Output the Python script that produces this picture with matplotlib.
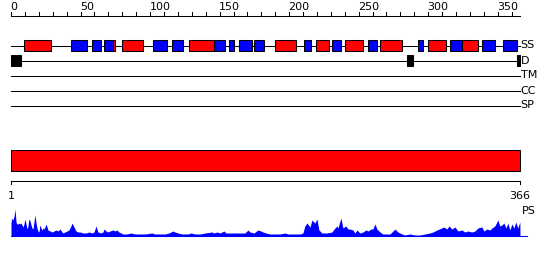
import matplotlib
matplotlib.use("Agg")
import matplotlib.pyplot as plt
from matplotlib.patches import Rectangle

seq_len = 366

# secondary structure elements (residue ranges), H = helix (red), E = strand (blue)
ss_start = [9, 43, 58, 67, 73, 80, 102, 116, 128, 146, 157, 164, 175, 190, 211, 219,
            231, 240, 257, 265, 293, 300, 316, 324, 339, 354]
ss_end = [29, 55, 65, 73, 75, 95, 112, 124, 146, 154, 160, 173, 182, 205, 216, 229,
          237, 253, 263, 281, 296, 313, 324, 336, 348, 364]
ss_type = ['H', 'E', 'E', 'E', 'H', 'H', 'E', 'E', 'H', 'E', 'E', 'E', 'E', 'H', 'E', 'H',
           'E', 'H', 'E', 'H', 'E', 'H', 'E', 'H', 'E', 'E']

# disorder segments
dis_start = [0, 285, 364]
dis_end = [7, 289, 366]

track_names = ['SS', 'D', 'TM', 'CC', 'SP']

# profile score along the sequence
ps_pos = [0, 0.7, 1.4, 2.2, 2.9, 3.6, 4.3, 5.0, 5.8, 6.5, 7.2, 7.9, 8.6, 9.3, 10.1, 10.8,
          11.5, 12.2, 12.9, 13.7, 14.4, 15.1, 15.8, 16.5, 17.3, 18.0, 18.7, 19.4, 20.1,
          20.8, 21.6, 22.3, 23.0, 23.7, 24.4, 25.2, 25.9, 26.6, 28.0, 29.5, 30.9, 32.4,
          33.8, 35.2, 36.7, 37.4, 38.8, 40.3, 41.7, 43.1, 43.9, 44.6, 45.3, 46.7, 48.2,
          49.6, 51.8, 53.9, 56.1, 58.2, 59.7, 61.1, 61.8, 62.5, 64.7, 66.1, 66.9, 68.3,
          69.7, 71.2, 73.3, 74.8, 76.2, 77.6, 79.1, 80.5, 83.4, 86.3, 89.1,
          92.7, 96.3, 101.4, 103.5, 107.1, 110.7, 113.6, 116.5, 117.9, 120.1, 122.9,
          127.2, 129.4, 132.3, 135.9, 139.5, 144.5, 145.9, 148.1, 150.3, 153.1, 154.6,
          157.4, 161.0, 164.6, 168.2, 170.4, 171.8, 174.7, 177.6, 179.7, 181.2, 183.3,
          186.2, 190.5, 193.4, 197.0, 199.1, 202.0, 207.8, 209.9, 211.3, 212.8, 215.0,
          216.4, 218.5, 220.0, 221.4, 223.6, 227.2, 230.8, 232.9, 234.4, 235.1, 237.2,
          238.7, 240.8, 242.3, 243.7, 245.9, 247.3, 248.7, 250.9, 253.1, 255.2, 256.7,
          258.8, 260.2, 261.7, 263.1, 265.3, 267.4, 269.6, 272.5, 276.1, 278.2, 281.1,
          283.3, 286.8, 290.4, 294.0, 297.6, 301.2, 303.4, 306.3, 311.3, 313.4, 314.9,
          317.0, 319.2, 321.4, 324.2, 326.4, 328.5, 331.4, 333.6, 335.7, 338.6, 340.0,
          342.2, 344.4, 345.8, 347.9, 350.1, 351.5, 353.0, 354.4, 355.9, 357.3, 358.7,
          360.2, 361.6, 363.0, 364.4, 365.9, 366]
ps_val = [14, 18, 16, 20, 27, 14, 12, 12, 13, 12, 13, 11, 9, 12, 17, 12,
          7, 10, 17, 15, 11, 8, 7, 14, 21, 13, 8, 5, 4,
          11, 8, 6, 8, 7, 9, 12, 9, 6, 5, 4, 5, 6,
          5, 7, 4, 3, 4, 5, 6, 10, 13, 11, 9, 5, 4,
          4, 3, 3, 4, 3, 4, 10, 7, 4, 3, 4, 7, 5,
          4, 5, 6, 5, 6, 4, 3, 2, 2, 3, 2,
          2, 2, 3, 2, 2, 2, 3, 5, 4, 3, 2,
          2, 3, 2, 2, 3, 4, 3, 4, 3, 5, 3,
          3, 3, 3, 3, 6, 4, 3, 6, 5, 4, 3,
          2, 2, 2, 3, 2, 2, 2, 3, 10, 13, 9,
          16, 13, 17, 6, 3, 3, 4, 8, 10, 8, 18,
          8, 10, 7, 7, 6, 3, 6, 3, 4, 6, 5,
          7, 7, 12, 7, 4, 2, 2, 2, 7, 4, 2,
          1, 2, 1, 1, 2, 3, 4, 6, 9, 7, 10,
          7, 9, 5, 6, 4, 5, 4, 5, 8, 9, 5,
          7, 6, 8, 10, 16, 10, 11, 13, 8, 13, 6,
          12, 8, 14, 8, 14, 0]

px = 509 / seq_len  # pixels per residue

fig = plt.figure(figsize=(5.5, 2.6), dpi=100)
ax = fig.add_axes([0, 0, 1, 1])
ax.set_xlim(-11 / px, (550 - 11) / px)
ax.set_ylim(260, 0)
ax.axis('off')

lw = 0.75
fs = 8

# ruler on top
ax.plot([0, seq_len], [15.5, 15.5], color='black', lw=lw)
for t in range(0, 361, 10):
    ax.plot([t, t], [12, 15.5], color='black', lw=lw)
    if t % 50 == 0:
        ax.text(t - 0.5, 6.5, str(t), ha='left', va='center', fontsize=fs)

# feature tracks
track_y = [45.5, 60.5, 75.5, 90.5, 105.5]
for name, y in zip(track_names, track_y):
    ax.plot([0, seq_len], [y, y], color='black', lw=lw, zorder=1)
    ax.text(seq_len + 0.5, y, name, ha='left', va='center', fontsize=fs)

for s, e, t in zip(ss_start, ss_end, ss_type):
    c = 'red' if t == 'H' else 'blue'
    ax.add_patch(Rectangle((s, 40), e - s, 10.5, facecolor=c, edgecolor='black',
                           lw=lw, zorder=2))

for s, e in zip(dis_start, dis_end):
    ax.add_patch(Rectangle((s, 55), e - s, 11, facecolor='black', edgecolor='black',
                           lw=lw, zorder=2))

# full length bar
ax.add_patch(Rectangle((0, 150), seq_len, 20.5, facecolor='red', edgecolor='black', lw=lw))
ax.plot([0, seq_len], [180.5, 180.5], color='black', lw=lw)
ax.plot([0, 0], [180.5, 184], color='black', lw=lw)
ax.plot([seq_len, seq_len], [180.5, 184], color='black', lw=lw)
ax.text(0, 196, '1', ha='center', va='center', fontsize=fs)
ax.text(seq_len, 196, str(seq_len), ha='center', va='center', fontsize=fs)

# profile
base = 236
ax.fill_between(ps_pos, base, [base - v for v in ps_val], color='blue', lw=0)
ax.plot([0, seq_len + 5], [base - 0.5, base - 0.5], color='blue', lw=lw)
ax.text(seq_len + 1, 211, 'PS', ha='left', va='center', fontsize=fs)

fig.savefig('out.png', dpi=100)
